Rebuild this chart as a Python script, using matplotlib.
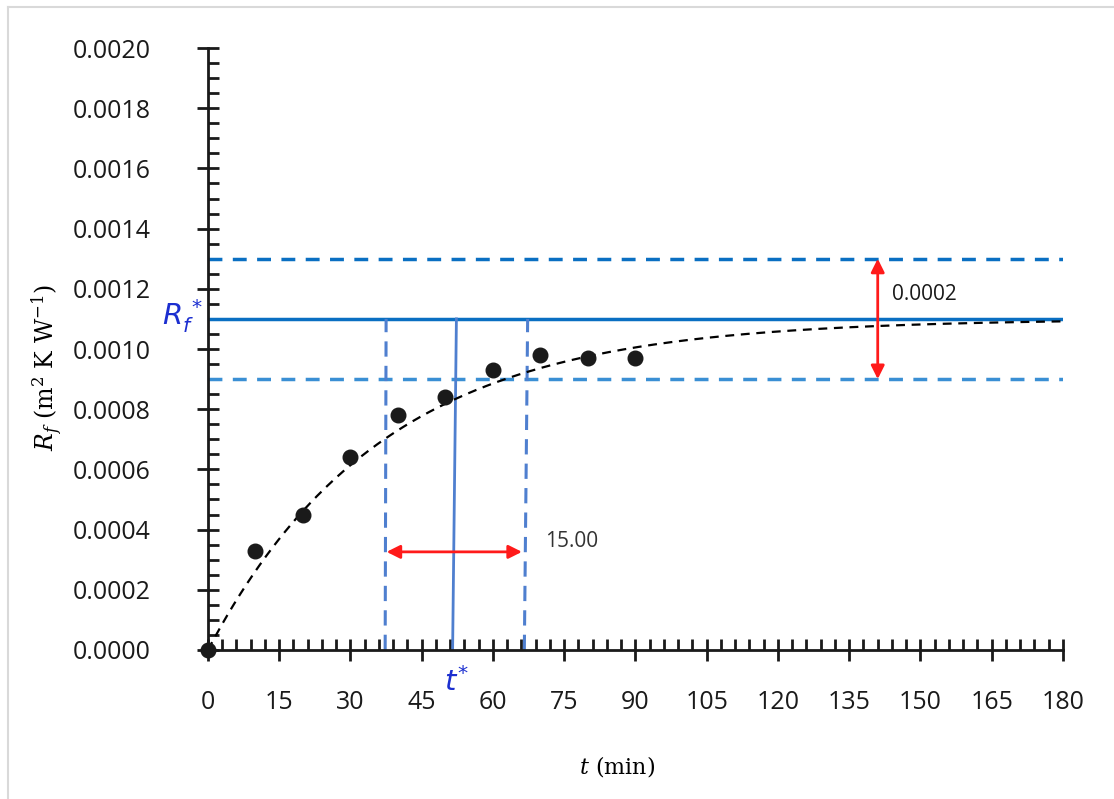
import numpy as np
import matplotlib.pyplot as plt
from matplotlib.ticker import MultipleLocator, FormatStrFormatter
from matplotlib.lines import Line2D

# Measured fouling resistance
t_data = [0, 10, 20, 30, 40, 50, 60, 70, 80, 90]
Rf_data = [0.0, 0.00033, 0.00045, 0.00064, 0.00078, 0.00084, 0.00093, 0.00098, 0.00097, 0.00097]

# Asymptotic fit parameters
Rf_star = 0.0011
tau = 36.7
band = 0.0002

# t* window (bottom / top x of the hand-drawn verticals)
t_left = [37.3, 37.5]
t_star = [51.5, 52.3]
t_right = [66.6, 67.3]
win_label = "15.00"

x_ticks = np.arange(0, 181, 15)

plt.rcParams['font.family'] = ['Open Sans', 'DejaVu Sans']

fig = plt.figure(figsize=(11.14, 7.99), dpi=100)
ax = fig.add_axes([0.1867, 0.1865, 0.7675, 0.7534])

# light frame of the figure (left + top only visible)
fig.add_artist(Line2D([0.0072, 0.0072], [0, 0.991], color='#d9d9d9', lw=1.5, transform=fig.transFigure))
fig.add_artist(Line2D([0.0072, 1.0], [0.991, 0.991], color='#d9d9d9', lw=1.5, transform=fig.transFigure))

# horizontal reference lines
ax.axhline(Rf_star + band, color='#0a6fc2', lw=2.5, ls=(0, (4, 3)), zorder=2)
ax.axhline(Rf_star, color='#0a6fc2', lw=2.5, zorder=2)
ax.axhline(Rf_star - band, color='#3a8fd4', lw=2.5, ls=(0, (4, 3)), zorder=2)

# vertical window lines
ax.plot(t_left, [0, Rf_star], color='#4f7fcf', lw=2.2, ls=(0, (5, 3)), zorder=2)
ax.plot(t_right, [0, Rf_star], color='#4f7fcf', lw=2.2, ls=(0, (5, 3)), zorder=2)
ax.plot(t_star, [0, Rf_star], color='#4f7fcf', lw=2.0, zorder=2)

# fit curve
t_fit = np.linspace(0, 180, 400)
Rf_fit = Rf_star * (1 - np.exp(-t_fit / tau))
ax.plot(t_fit, Rf_fit, color='black', lw=1.6, ls=(0, (4, 3)), zorder=3)

# data
ax.plot(t_data, Rf_data, 'o', color='#1a1a1a', ms=10.5, zorder=4, clip_on=False)

# red arrows
ax.annotate('', xy=(t_left[0] + 0.3, 0.000326), xytext=(t_right[0] - 0.5, 0.000326),
            arrowprops=dict(arrowstyle='<|-|>', color='#ff1a1a', lw=2, mutation_scale=20, shrinkA=0, shrinkB=0))
ax.text(71.0, 0.00036, win_label, fontsize=15, color='#333333', ha='left', va='center')
ax.annotate('', xy=(141, Rf_star + band), xytext=(141, Rf_star - band),
            arrowprops=dict(arrowstyle='<|-|>', color='#ff1a1a', lw=2, mutation_scale=20, shrinkA=0, shrinkB=0))
ax.text(144, 0.00118, '0.0002', fontsize=15, color='#1a1a1a', ha='left', va='center')

# axes
ax.set_xlim(0, 180)
ax.set_ylim(0, 0.002)
for s in ['top', 'right']:
    ax.spines[s].set_visible(False)
for s in ['left', 'bottom']:
    ax.spines[s].set_linewidth(2)
    ax.spines[s].set_color('#1a1a1a')

ax.set_xticks(x_ticks)
ax.xaxis.set_minor_locator(MultipleLocator(3))
ax.yaxis.set_major_locator(MultipleLocator(0.0002))
ax.yaxis.set_minor_locator(MultipleLocator(0.00005))
ax.yaxis.set_major_formatter(FormatStrFormatter('%.4f'))
ax.tick_params(which='major', direction='inout', length=16, width=2, color='#1a1a1a')
ax.tick_params(which='minor', direction='in', length=8, width=2, color='#1a1a1a')
ax.tick_params(axis='x', which='major', pad=21, labelsize=18, labelcolor='#1a1a1a')
ax.tick_params(axis='y', which='major', pad=33, labelsize=18, labelcolor='#1a1a1a')

ax.set_xlabel(r'$t$ (min)', fontsize=16, family='DejaVu Serif', math_fontfamily='dejavuserif')
ax.set_ylabel(r'$R_f$ (m$^2$ K W$^{-1}$)', fontsize=17, family='DejaVu Serif',
              math_fontfamily='dejavuserif')
ax.xaxis.set_label_coords(0.479, -0.172)
ax.yaxis.set_label_coords(-0.168, 0.47)

# blue labels for R_f* and t*
ax.text(-1.0, Rf_star + 0.00001, r'$R_f^{\,*}$', fontsize=21, color='#1c2fd0',
        ha='right', va='center', clip_on=False, math_fontfamily='dejavusans')
ax.text(52.3, -0.00011, r'$t^{*}$', fontsize=21, color='#1c2fd0',
        ha='center', va='center', clip_on=False, math_fontfamily='dejavusans')

fig.savefig('out.png', dpi=100)
